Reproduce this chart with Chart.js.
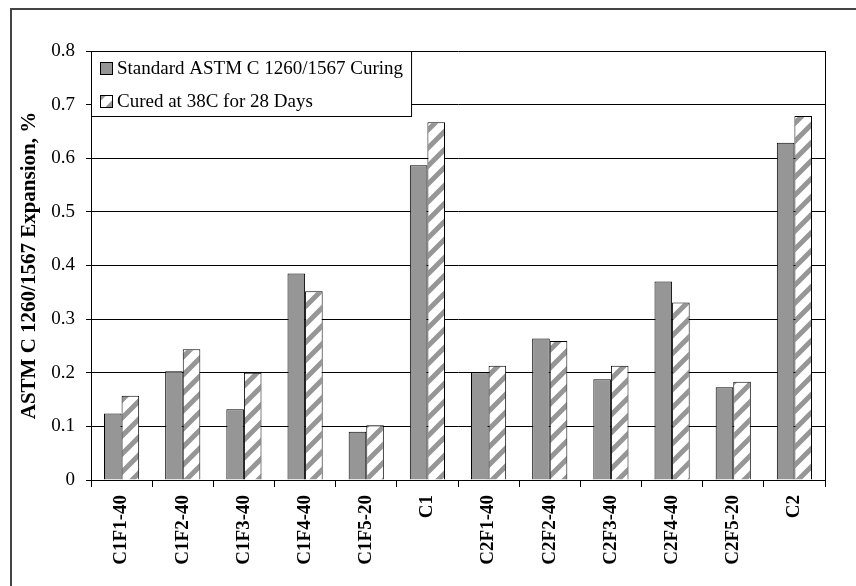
<!DOCTYPE html>
<html>
<head>
<meta charset="utf-8">
<script src="https://cdn.jsdelivr.net/npm/chart.js@4.4.1/dist/chart.umd.min.js"></script>
<style>
  html, body { margin: 0; padding: 0; background: #fff; overflow: hidden; }
  #wrap { position: relative; width: 856px; height: 586px; }
  #frame { position: absolute; left: 10px; top: 8px; width: 900px; height: 700px; border: 2px solid #444; box-sizing: border-box; }
  #chart { position: absolute; left: 0; top: 0; }
</style>
</head>
<body>
<div id="wrap">
  <div id="frame"></div>
  <canvas id="chart" width="856" height="586"></canvas>
</div>
<script>
// values
const categories = ["C1F1-40", "C1F2-40", "C1F3-40", "C1F4-40", "C1F5-20", "C1",
                    "C2F1-40", "C2F2-40", "C2F3-40", "C2F4-40", "C2F5-20", "C2"];
const standardCuring = [0.124, 0.203, 0.132, 0.385, 0.090, 0.587, 0.201, 0.264, 0.188, 0.370, 0.173, 0.629];
const cured38C = [0.157, 0.244, 0.200, 0.352, 0.102, 0.667, 0.213, 0.259, 0.213, 0.331, 0.183, 0.679];
const yTickLabels = ["0", "0.1", "0.2", "0.3", "0.4", "0.5", "0.6", "0.7", "0.8"];

const serif = "'Liberation Serif', 'Times New Roman', serif";

// white bar with wide grey upward diagonal stripes
function makeHatch() {
    const p = 18;
    const c = document.createElement("canvas");
    c.width = p;
    c.height = p;
    const g = c.getContext("2d");
    g.fillStyle = "#fff";
    g.fillRect(0, 0, p, p);
    g.strokeStyle = "#969696";
    g.lineWidth = 5;
    g.beginPath();
    g.moveTo(0, p); g.lineTo(p, 0);
    g.moveTo(-p / 2, p / 2); g.lineTo(p / 2, -p / 2);
    g.moveTo(p / 2, p * 1.5); g.lineTo(p * 1.5, p / 2);
    g.stroke();
    return g.createPattern(c, "repeat");
}
const hatch = makeHatch();

// legend box sits inside the plot, top-left, with a white background
const legendBox = {
    id: "legendBox",
    afterDraw(chart) {
        const ctx = chart.ctx;
        const area = chart.chartArea;
        const sets = chart.data.datasets;
        ctx.save();
        ctx.font = "19px " + serif;
        const textX = area.left + 26;
        let widest = 0;
        sets.forEach(ds => { widest = Math.max(widest, ctx.measureText(ds.label).width); });
        const boxW = textX + widest + 8 - area.left;
        const boxH = 65;
        ctx.fillStyle = "#fff";
        ctx.fillRect(area.left, area.top, boxW, boxH);
        ctx.strokeStyle = "#000";
        ctx.lineWidth = 1;
        ctx.strokeRect(area.left + 0.5, area.top + 0.5, boxW, boxH);
        sets.forEach((ds, i) => {
            const cy = area.top + 17 + i * 33;
            ctx.fillStyle = ds.backgroundColor;
            ctx.fillRect(area.left + 9, cy - 6, 12, 12);
            ctx.strokeStyle = "#000";
            ctx.strokeRect(area.left + 9.5, cy - 5.5, 12, 12);
            ctx.fillStyle = "#000";
            ctx.textBaseline = "middle";
            ctx.fillText(ds.label, textX, cy + 1);
        });
        ctx.restore();
    }
};

new Chart(document.getElementById("chart"), {
    type: "bar",
    data: {
        labels: categories,
        datasets: [{
                label: "Standard ASTM C 1260/1567 Curing",
                data: standardCuring,
                backgroundColor: "#969696",
                borderColor: "#000",
                borderWidth: 1
            },
            {
                label: "Cured at 38C for 28 Days",
                data: cured38C,
                backgroundColor: hatch,
                borderColor: "#000",
                borderWidth: 1
            }
        ]
    },
    options: {
        responsive: false,
        animation: false,
        devicePixelRatio: 1,
        categoryPercentage: 0.575,
        barPercentage: 1.0,
        layout: {
            padding: { top: 51, right: 31, bottom: 0, left: 0 }
        },
        plugins: {
            legend: { display: false },
            tooltip: { enabled: false }
        },
        scales: {
            x: {
                grid: {
                    offset: true,
                    // only the right edge of the plot gets a line
                    color: ctx => ctx.type === "scale" ? "#000" : "rgba(0,0,0,0)",
                    tickColor: "#000",
                    tickLength: 7,
                    lineWidth: 1
                },
                border: { color: "#000", width: 1 },
                ticks: {
                    autoSkip: false,
                    minRotation: 90,
                    maxRotation: 90,
                    padding: 8,
                    color: "#000",
                    font: { family: serif, size: 19, weight: "bold" }
                },
                afterFit: scale => { scale.height = 106; }
            },
            y: {
                min: 0,
                max: 0.8,
                ticks: {
                    stepSize: 0.1,
                    padding: 11,
                    color: "#000",
                    font: { family: serif, size: 19 },
                    callback: (value, i) => yTickLabels[i]
                },
                grid: { color: "#000", tickColor: "#000", tickLength: 5, lineWidth: 1 },
                border: { color: "#000", width: 1 },
                title: {
                    display: true,
                    text: "ASTM C 1260/1567 Expansion, %",
                    color: "#000",
                    font: { family: serif, size: 21, weight: "bold" },
                    padding: { top: 17, bottom: 0 }
                },
                afterFit: scale => { scale.width = 91; }
            }
        }
    },
    plugins: [legendBox]
});
</script>
</body>
</html>
